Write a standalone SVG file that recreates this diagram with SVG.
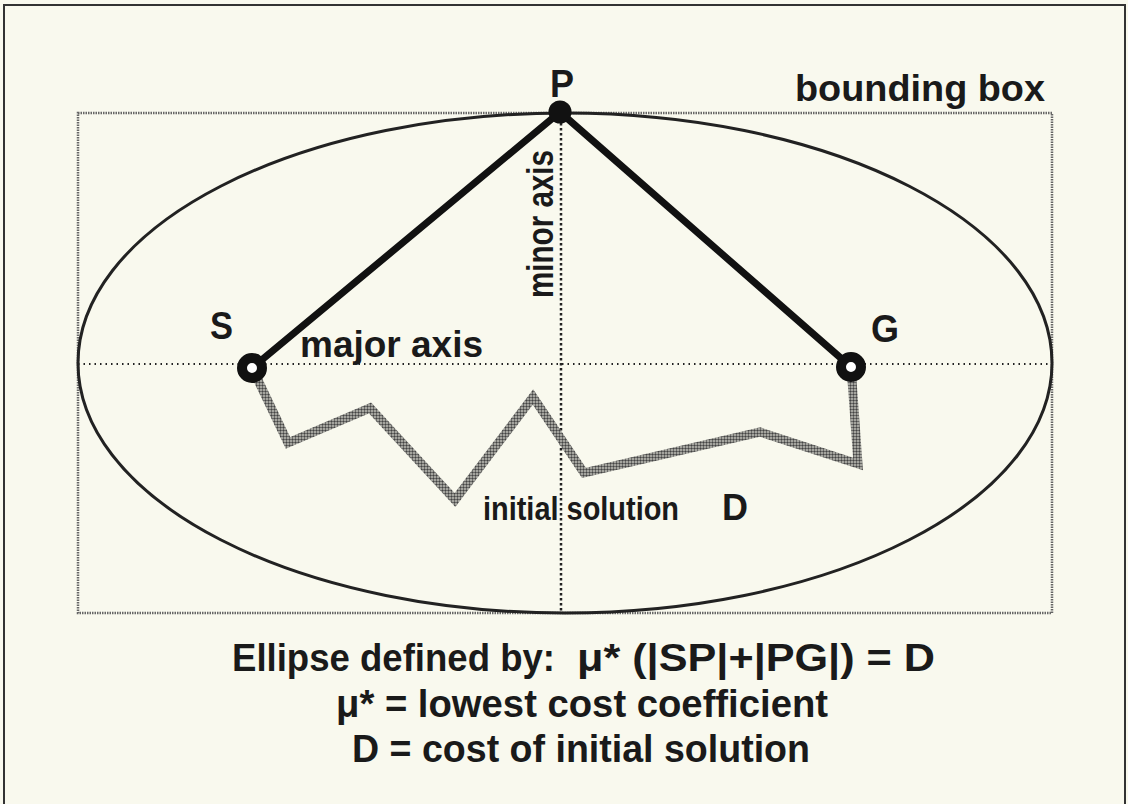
<svg xmlns="http://www.w3.org/2000/svg" width="1128" height="804" viewBox="0 0 1128 804">
<defs>
<style>
.t{font-family:"Liberation Sans",Arial,sans-serif;font-weight:bold;fill:#1a1a1a}
.axis{stroke:#222;stroke-width:2;stroke-dasharray:1.5 4;fill:none}
.thick{stroke:#111;stroke-width:7;fill:none;stroke-linecap:round}
.node{fill:#fff;stroke:#111;stroke-width:10}
</style>
<pattern id="dots" width="3" height="3" patternUnits="userSpaceOnUse">
<rect width="3" height="3" fill="#c4c4bc"/>
<circle cx="1.5" cy="1.5" r="1.2" fill="#444"/>
</pattern>
</defs>
<rect x="0" y="0" width="1128" height="804" fill="#f9f9ee"/>
<rect id="frame" x="4" y="5" width="1121" height="820" fill="none" stroke="#333" stroke-width="2"/>
<g id="bounding-box">
<rect x="78" y="113" width="974" height="500" fill="none" stroke="#666" stroke-width="2.5" stroke-dasharray="1.5 1"/>
<text class="t" x="795" y="101" font-size="37" textLength="250" lengthAdjust="spacingAndGlyphs">bounding box</text>
</g>
<g id="ellipse">
<ellipse cx="565" cy="363" rx="487" ry="250" fill="none" stroke="#222" stroke-width="3"/>
</g>
<g id="connectors">
<line class="axis" x1="78" y1="364" x2="1052" y2="364"/>
<line x1="561" y1="113" x2="561" y2="613" stroke="#222" stroke-width="2.5" stroke-dasharray="2.5 2.5"/>
<polyline points="257,378 288,443 370,408 455,500 533,397 584,473 760,432 858,464 852,380" fill="none" stroke="url(#dots)" stroke-width="9" stroke-linejoin="miter"/>
<line class="thick" x1="252" y1="368" x2="560" y2="112"/>
<line class="thick" x1="560" y1="112" x2="851" y2="367"/>
</g>
<g id="node-P">
<circle cx="560" cy="112" r="11.5" fill="#111"/>
<text class="t" x="562" y="97" font-size="38" text-anchor="middle" textLength="24" lengthAdjust="spacingAndGlyphs">P</text>
</g>
<g id="node-S">
<circle class="node" cx="252" cy="368" r="10"/>
<text class="t" x="210" y="339" font-size="38" textLength="23" lengthAdjust="spacingAndGlyphs">S</text>
</g>
<g id="node-G">
<circle class="node" cx="851" cy="367" r="10"/>
<text class="t" x="871" y="342" font-size="38" textLength="28" lengthAdjust="spacingAndGlyphs">G</text>
</g>
<g id="labels">
<text class="t" x="300" y="357" font-size="37" textLength="183" lengthAdjust="spacingAndGlyphs">major axis</text>
<text class="t" font-size="37" textLength="148" lengthAdjust="spacingAndGlyphs" transform="translate(553,298) rotate(-90)">minor axis</text>
<text class="t" x="483" y="520" font-size="34" textLength="196" lengthAdjust="spacingAndGlyphs">initial solution</text>
<text class="t" x="722" y="520" font-size="36">D</text>
<text class="t" y="671" font-size="38"><tspan x="232" textLength="323" lengthAdjust="spacingAndGlyphs">Ellipse defined by:</tspan><tspan x="577" textLength="358" lengthAdjust="spacingAndGlyphs">μ* (|SP|+|PG|) = D</tspan></text>
<text class="t" x="336" y="717" font-size="38" textLength="492" lengthAdjust="spacingAndGlyphs">μ* = lowest cost coefficient</text>
<text class="t" x="352" y="762" font-size="38" textLength="458" lengthAdjust="spacingAndGlyphs">D = cost of initial solution</text>
</g>
</svg>
